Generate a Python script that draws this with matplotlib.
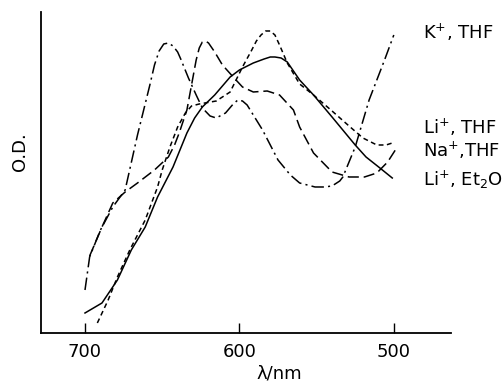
import matplotlib
matplotlib.use("Agg")
import matplotlib.pyplot as plt

# absorption spectra, O.D. in arbitrary units (no scale on the axis)
k_thf_nm = [700, 697, 690, 682, 674, 666, 658, 655, 652, 649, 646, 643, 640, 638, 633, 628, 624,
            619, 615, 609, 604, 601, 598, 595, 585, 575, 567, 561, 551, 545, 540, 535, 533, 525, 516, 506, 500]
k_thf_od = [43, 76, 103, 126, 143, 198, 248, 268, 282, 289, 290, 287, 281, 274, 255, 238, 225,
            217, 215, 220, 229, 233, 232, 228, 203, 173, 158, 150, 146, 146, 147, 152, 156, 186, 233, 273, 298]

li_thf_nm = [692, 685, 679, 671, 661, 653, 650, 645, 640, 635, 631, 626, 615, 606,
             598, 592, 589, 586, 583, 580, 577, 574, 569, 561, 552, 540, 529, 520, 511, 505, 501]
li_thf_od = [10, 33, 56, 83, 113, 146, 163, 186, 206, 220, 227, 229, 232, 241,
             266, 283, 292, 298, 302, 302, 298, 288, 270, 249, 238, 222, 207, 195, 188, 188, 190]

na_thf_nm = [697, 689, 682, 674, 666, 655, 646, 642, 639, 634, 631, 628, 626, 624, 622, 620,
             616, 611, 604, 598, 591, 582, 574, 565, 561, 552, 540, 529, 519, 511, 504, 499]
na_thf_od = [77, 106, 130, 141, 150, 163, 176, 188, 200, 223, 248, 273, 285, 291, 292, 290,
             281, 268, 256, 246, 241, 242, 238, 223, 206, 180, 161, 156, 156, 160, 171, 183]

li_et2o_nm = [700, 689, 679, 670, 661, 653, 643, 634, 629, 624, 616, 606, 600, 591,
              584, 580, 577, 573, 569, 561, 552, 540, 525, 518, 509, 501]
li_et2o_od = [20, 30, 53, 83, 106, 136, 166, 200, 215, 226, 238, 256, 263, 270,
              274, 276, 276, 275, 271, 253, 238, 216, 188, 176, 165, 155]

labels = [r"K$^{+}$, THF", r"Li$^{+}$, THF", r"Na$^{+}$,THF", r"Li$^{+}$, Et$_2$O"]
label_y = [32, 127, 150, 180]   # pixel rows of the right-hand labels

plt.rcParams['lines.scale_dashes'] = False
fig = plt.figure(figsize=(5.03, 3.82), dpi=100)
ax = fig.add_axes([0.0815, 0.1283, 0.815, 0.8403])

lw = 1.1
ax.plot(k_thf_nm, k_thf_od, color='black', lw=lw, dashes=(9, 3, 1.5, 3))
ax.plot(li_thf_nm, li_thf_od, color='black', lw=lw, dashes=(3.5, 2.5))
ax.plot(na_thf_nm, na_thf_od, color='black', lw=lw, dashes=(8, 3.5))
ax.plot(li_et2o_nm, li_et2o_od, color='black', lw=lw)

ax.set_xlim(728.5, 463)
ax.set_ylim(0, 321)
ax.set_xticks([700, 600, 500])
ax.set_yticks([])
ax.tick_params(axis='x', direction='in', length=7.5, width=1.0, pad=7, labelsize=13)
for s in ['top', 'right']:
    ax.spines[s].set_visible(False)
for s in ['left', 'bottom']:
    ax.spines[s].set_linewidth(1.3)

fig.text(20 / 503, 1 - 152 / 382, 'O.D.', rotation=90, ha='center', va='center', fontsize=13)
fig.text(279 / 503, 1 - 373 / 382, 'λ/nm', ha='center', va='center', fontsize=13)
for lab, yy in zip(labels, label_y):
    fig.text(423 / 503, 1 - yy / 382, lab, ha='left', va='center', fontsize=13)

fig.savefig('out.png', dpi=100)
